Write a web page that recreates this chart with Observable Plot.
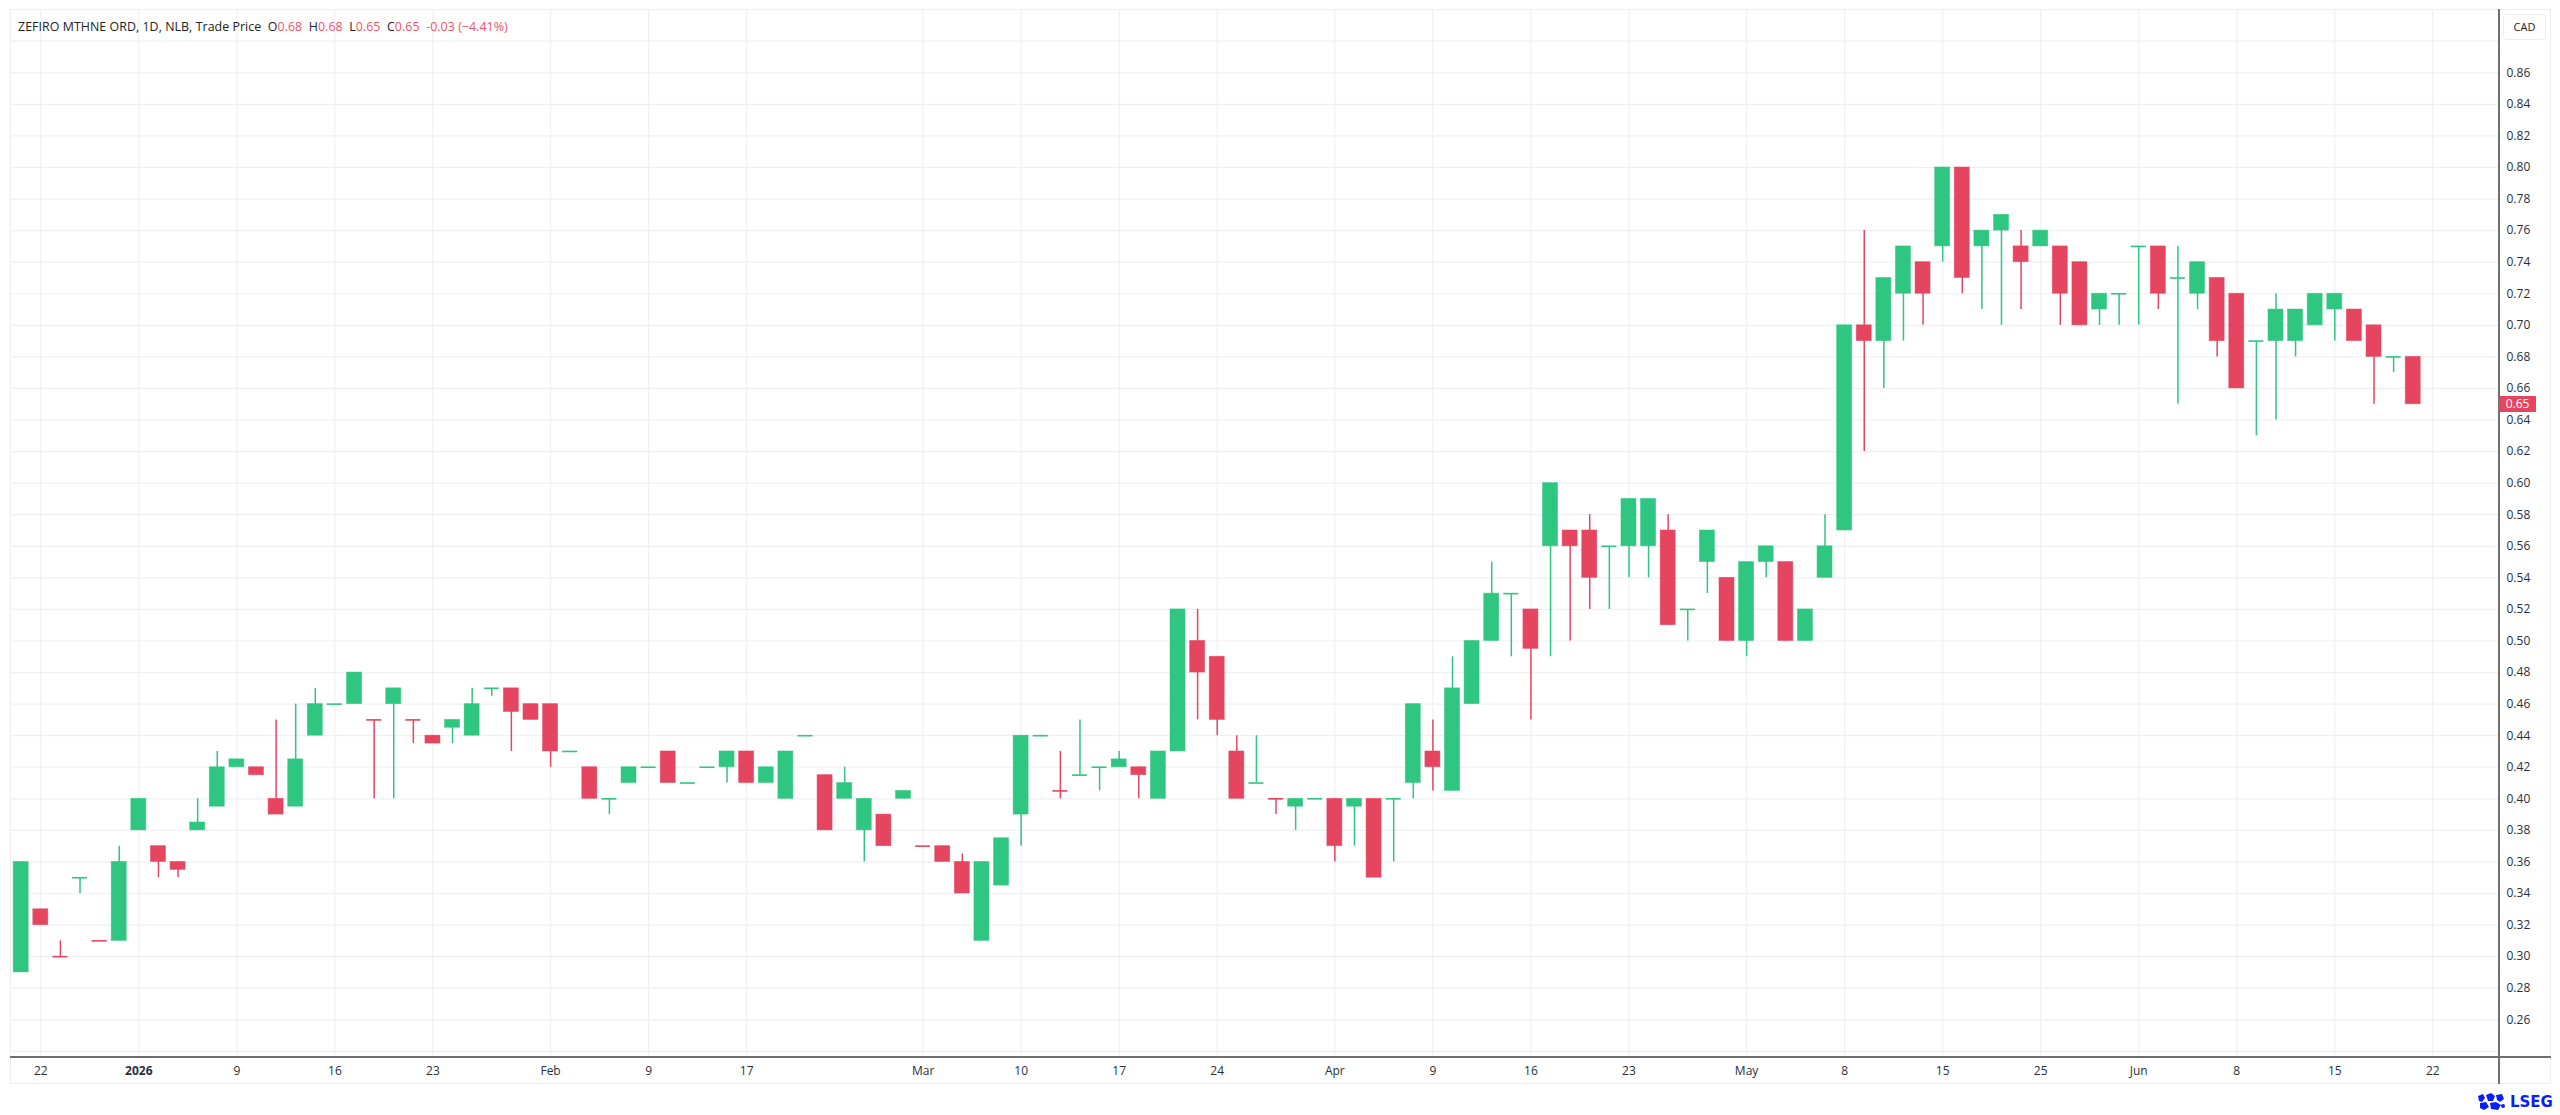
<!DOCTYPE html>
<html><head><meta charset="utf-8">
<script src="https://cdn.jsdelivr.net/npm/d3@7"></script>
<script src="https://cdn.jsdelivr.net/npm/@observablehq/plot@0.6"></script>
<style>
html,body{margin:0;padding:0;background:#fff;width:2560px;height:1115px;overflow:hidden;font-family:"Open Sans",sans-serif;}
#wrap{position:absolute;left:0;top:0;width:2560px;height:1115px;}
#chart{position:absolute;left:0;top:0;}
#frame{position:absolute;left:10px;top:9px;width:2541px;height:1075px;border:1px solid #eceef1;box-sizing:border-box;pointer-events:none}
#title{position:absolute;left:18px;top:18px;font-size:12.4px;color:#222;white-space:pre;letter-spacing:0.05px}
#title .v{color:#ef5266}
#cad{position:absolute;left:2503px;top:14px;width:43px;height:26px;border:1px solid #eceef1;border-radius:4px;box-sizing:border-box;font-size:11px;color:#222;text-align:center;line-height:24px}
#vline{position:absolute;left:2498px;top:9px;width:2px;height:1075px;background:#6f6f6f}
#hline{position:absolute;left:10px;top:1056px;width:2541px;height:2px;background:#6f6f6f}
#last{position:absolute;left:2499px;width:37px;height:16px;background:#e5455f;color:#fff;font-size:12px;line-height:16px;text-align:center}
#logo{position:absolute;left:2476px;top:1092px;height:20px;display:flex;align-items:center;gap:4px;color:#0a1ff5;font-weight:bold;font-size:15px;font-family:"DejaVu Sans",sans-serif}
</style></head><body>
<div id="wrap">
<div id="chart"></div>
<div id="frame"></div>
<div id="vline"></div>
<div id="hline"></div>
<div id="title"></div>
<div id="cad">CAD</div>
<div id="last"></div>
<div id="logo"><svg width="30" height="18" viewBox="0 0 30 18"><g fill="#0a1ff5"><path d="M2 3 L7 1 L9 5 L6 9 L3 8 Z"/><path d="M10 2 L15 0 L19 3 L17 8 L12 8 Z"/><path d="M20 2 L26 1 L28 6 L24 9 L21 7 Z"/><path d="M4 10 L10 9 L13 14 L8 17 L4 15 Z"/><path d="M14 10 L20 9 L25 12 L22 17 L15 16 Z"/><circle cx="27" cy="13" r="2"/></g></svg><span>LSEG</span></div>
</div>
<script>
// Candle data (daily), index = trading-day position
const opens  = [0.29,0.33,0.30,0.35,0.31,0.31,0.38,0.37,0.36,0.38,0.395,0.42,0.42,0.40,0.395,0.44,0.46,0.46,0.45,0.46,
                0.45,0.44,0.445,0.44,0.47,0.47,0.46,0.46,0.43,0.42,0.40,0.41,0.42,0.43,0.41,0.42,0.42,0.43,0.41,0.40,
                0.44,0.415,0.40,0.38,0.39,0.40,0.37,0.37,0.36,0.31,0.345,0.39,0.44,0.405,0.415,0.42,0.42,0.42,0.40,0.43,
                0.50,0.49,0.43,0.41,0.40,0.395,0.40,0.40,0.395,0.40,0.40,0.41,0.43,0.405,0.46,0.50,0.53,0.52,0.56,0.57,
                0.57,0.56,0.56,0.56,0.57,0.52,0.55,0.54,0.50,0.55,0.55,0.50,0.54,0.57,0.70,0.69,0.72,0.74,0.75,0.80,
                0.75,0.76,0.75,0.75,0.75,0.74,0.71,0.72,0.75,0.75,0.73,0.72,0.73,0.72,0.69,0.69,0.69,0.70,0.71,0.71,
                0.70,0.68,0.68];
const highs  = [0.36,0.33,0.31,0.35,0.31,0.37,0.40,0.37,0.36,0.40,0.43,0.425,0.42,0.45,0.46,0.47,0.46,0.48,0.45,0.47,
                0.45,0.44,0.45,0.47,0.47,0.47,0.46,0.46,0.43,0.42,0.40,0.42,0.42,0.43,0.41,0.42,0.43,0.43,0.42,0.43,
                0.44,0.415,0.42,0.40,0.39,0.405,0.37,0.37,0.365,0.36,0.375,0.44,0.44,0.43,0.45,0.42,0.43,0.42,0.43,0.52,
                0.52,0.49,0.44,0.44,0.40,0.40,0.40,0.40,0.40,0.40,0.40,0.46,0.45,0.49,0.50,0.55,0.53,0.52,0.60,0.57,
                0.58,0.56,0.59,0.59,0.58,0.52,0.57,0.54,0.55,0.56,0.55,0.52,0.58,0.70,0.76,0.73,0.75,0.74,0.80,0.80,
                0.76,0.77,0.76,0.76,0.75,0.74,0.72,0.72,0.75,0.75,0.75,0.74,0.73,0.72,0.69,0.72,0.71,0.72,0.72,0.71,
                0.70,0.68,0.68];
const lows   = [0.29,0.32,0.30,0.34,0.31,0.31,0.38,0.35,0.35,0.38,0.395,0.42,0.415,0.39,0.395,0.44,0.46,0.46,0.40,0.40,
                0.435,0.435,0.435,0.44,0.465,0.43,0.45,0.42,0.43,0.40,0.39,0.41,0.42,0.41,0.41,0.42,0.41,0.41,0.41,0.40,
                0.44,0.38,0.40,0.36,0.37,0.40,0.37,0.36,0.34,0.31,0.345,0.37,0.44,0.40,0.415,0.405,0.42,0.40,0.40,0.43,
                0.45,0.44,0.40,0.41,0.39,0.38,0.40,0.36,0.37,0.35,0.36,0.40,0.405,0.405,0.46,0.50,0.49,0.45,0.49,0.50,
                0.52,0.52,0.54,0.54,0.51,0.50,0.53,0.50,0.49,0.54,0.50,0.50,0.54,0.57,0.62,0.66,0.69,0.70,0.74,0.72,
                0.71,0.70,0.71,0.75,0.70,0.70,0.70,0.70,0.70,0.71,0.65,0.71,0.68,0.66,0.63,0.64,0.68,0.70,0.69,0.69,
                0.65,0.67,0.65];
const closes = [0.36,0.32,0.30,0.35,0.31,0.36,0.40,0.36,0.355,0.385,0.42,0.425,0.415,0.39,0.425,0.46,0.46,0.48,0.45,0.47,
                0.45,0.435,0.45,0.46,0.47,0.455,0.45,0.43,0.43,0.40,0.40,0.42,0.42,0.41,0.41,0.42,0.43,0.41,0.42,0.43,
                0.44,0.38,0.41,0.40,0.37,0.405,0.37,0.36,0.34,0.36,0.375,0.44,0.44,0.405,0.415,0.42,0.425,0.415,0.43,0.52,
                0.48,0.45,0.40,0.41,0.40,0.40,0.40,0.37,0.40,0.35,0.40,0.46,0.42,0.47,0.50,0.53,0.53,0.495,0.60,0.56,
                0.54,0.56,0.59,0.59,0.51,0.52,0.57,0.50,0.55,0.56,0.50,0.52,0.56,0.70,0.69,0.73,0.75,0.72,0.80,0.73,
                0.76,0.77,0.74,0.76,0.72,0.70,0.72,0.72,0.75,0.72,0.73,0.74,0.69,0.66,0.69,0.71,0.71,0.72,0.72,0.69,
                0.68,0.68,0.65];

// Time axis ticks (trading-day index -> label)
const tickIdx    = [1,6,11,16,21,27,32,37,46,51,56,61,67,72,77,82,88,93,98,103,108,113,118,123];
const tickLabels = ["22","2026","9","16","23","Feb","9","17","Mar","10","17","24","Apr","9","16","23","May","8","15","25","Jun","8","15","22"];
// Price axis ticks and grid
const priceTicks = [0.26,0.28,0.30,0.32,0.34,0.36,0.38,0.40,0.42,0.44,0.46,0.48,0.50,0.52,0.54,0.56,0.58,0.60,0.62,0.64,0.66,0.68,0.70,0.72,0.74,0.76,0.78,0.80,0.82,0.84,0.86];
const gridTicks  = [0.24, ...priceTicks, 0.88];

const UP = "#2ec680", DOWN = "#e5455f";
const data = opens.map((o, i) => ({i, open: o, high: highs[i], low: lows[i], close: closes[i]}));
data.forEach((d, i) => {
  const up = d.close > d.open || (d.close === d.open && (i === 0 || d.close >= data[i-1].close));
  d.color = up ? UP : DOWN;
});
const HALF = 0.3825;
const labelMap = new Map(tickIdx.map((t, k) => [t, tickLabels[k]]));
const last = data[data.length - 1];

document.getElementById("title").innerHTML =
  'ZEFIRO MTHNE ORD, 1D, NLB, Trade Price  O<span class="v">' + last.open.toFixed(2) +
  '</span>  H<span class="v">' + last.high.toFixed(2) +
  '</span>  L<span class="v">' + last.low.toFixed(2) +
  '</span>  C<span class="v">' + last.close.toFixed(2) +
  '</span>  <span class="v">-0.03 (\u22124.41%)</span>';

const chart = Plot.plot({
  width: 2560, height: 1085,
  marginLeft: 10, marginRight: 61, marginTop: 9, marginBottom: 28,
  style: {fontFamily: "'Open Sans', sans-serif", fontSize: "12px", color: "#2a2e39", background: "transparent"},
  x: {type: "linear", domain: [-0.5457, 126.40]},
  y: {domain: [0.2361, 0.9001]},
  marks: [
    Plot.gridY(gridTicks, {stroke: "#eef0f3", strokeOpacity: 1, strokeWidth: 1.2}),
    Plot.gridX(tickIdx, {stroke: "#eef0f3", strokeOpacity: 1, strokeWidth: 1.2}),
    Plot.ruleX(data, {x: "i", y1: "low", y2: "high", stroke: "color", strokeWidth: 1.5}),
    Plot.rect(data.filter(d => d.open !== d.close), {
      x1: d => d.i - HALF, x2: d => d.i + HALF, y1: "open", y2: "close",
      fill: "color", stroke: "color", strokeWidth: 0.8, strokeOpacity: 0.6
    }),
    Plot.ruleY(data.filter(d => d.open === d.close), {
      y: "open", x1: d => d.i - HALF, x2: d => d.i + HALF, stroke: "color", strokeWidth: 1.6
    }),
    Plot.axisY(priceTicks, {anchor: "right", tickSize: 0, tickPadding: 7, tickFormat: d3.format(".2f"), label: null, fill: "#2a2e39"}),
    Plot.axisX(tickIdx, {anchor: "bottom", tickSize: 0, tickPadding: 9, tickFormat: d => labelMap.get(d), label: null, fill: "#2a2e39"})
  ]
});
document.getElementById("chart").appendChild(chart);
d3.select(chart).selectAll("text").filter(function(){ return this.textContent === "2026"; }).attr("font-weight", "bold");

const yLast = chart.scale("y").apply(last.close);
const lastEl = document.getElementById("last");
lastEl.textContent = last.close.toFixed(2);
lastEl.style.top = (yLast - 8) + "px";
</script>
</body></html>
